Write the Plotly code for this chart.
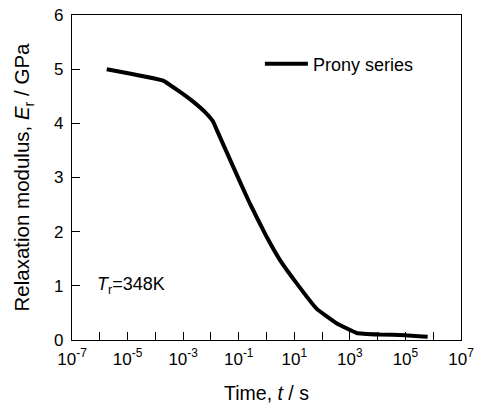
import numpy as np
import plotly.graph_objects as go

# Data (log10 time in s, modulus in GPa)
log_time = [-5.75, -3.72, -3.11, -2.64, -2.22, -1.92, -1.79, -1.20, -0.60, 0.0,
            0.48, 1.08, 1.80, 2.52, 3.24, 4.08, 5.0, 5.80]
modulus = [5.00, 4.79, 4.58, 4.40, 4.21, 4.03, 3.88, 3.20, 2.52, 1.91,
           1.48, 1.05, 0.58, 0.31, 0.13, 0.10, 0.09, 0.06]
time_s = [10 ** v for v in log_time]

x_exponents = list(range(-7, 8))
x_tickvals = [10.0 ** e for e in x_exponents]
x_ticktext = [("10<sup>%d</sup>" % e) if e % 2 != 0 else "" for e in x_exponents]
y_tickvals = [0, 1, 2, 3, 4, 5, 6]

font_family = "Liberation Sans, Arial, sans-serif"

fig = go.Figure()
fig.add_trace(go.Scatter(
    x=time_s, y=modulus, mode="lines", name="Prony series",
    line=dict(color="black", width=4, shape="spline", smoothing=0.3),
))

fig.update_layout(
    width=477, height=405,
    margin=dict(l=72, r=16, t=15, b=65),
    paper_bgcolor="white", plot_bgcolor="white",
    font=dict(family=font_family, size=17, color="black"),
    showlegend=True,
    legend=dict(x=0.483, y=0.849, xanchor="left", yanchor="middle",
                bgcolor="rgba(0,0,0,0)", font=dict(size=18),
                itemwidth=43),
    xaxis=dict(
        type="log", range=[-7, 7], automargin=False,
        tickvals=x_tickvals, ticktext=x_ticktext,
        ticks="inside", ticklen=8, tickwidth=1.3, tickcolor="black",
        showline=True, linecolor="black", linewidth=1.3, mirror=True,
        showgrid=False, zeroline=False, ticklabelstandoff=3,
        title=dict(text="Time, <i>t</i> / s", font=dict(size=19.5), standoff=18),
    ),
    yaxis=dict(
        range=[0, 6], tickvals=y_tickvals, automargin=False,
        ticks="inside", ticklen=8, tickwidth=1.3, tickcolor="black",
        showline=True, linecolor="black", linewidth=1.3, mirror=True,
        showgrid=False, zeroline=False, ticklabelstandoff=4,
        title=dict(text="Relaxation modulus, <i>E</i><sub>r</sub> / GPa",
                   font=dict(size=20.5), standoff=18),
    ),
    annotations=[dict(
        x=-6.17, y=1.0, xref="x", yref="y", xanchor="left", yanchor="middle",
        text="<i>T</i><sub>r</sub>=348K", showarrow=False, font=dict(size=18),
    )],
)

fig.write_html("out.html")
